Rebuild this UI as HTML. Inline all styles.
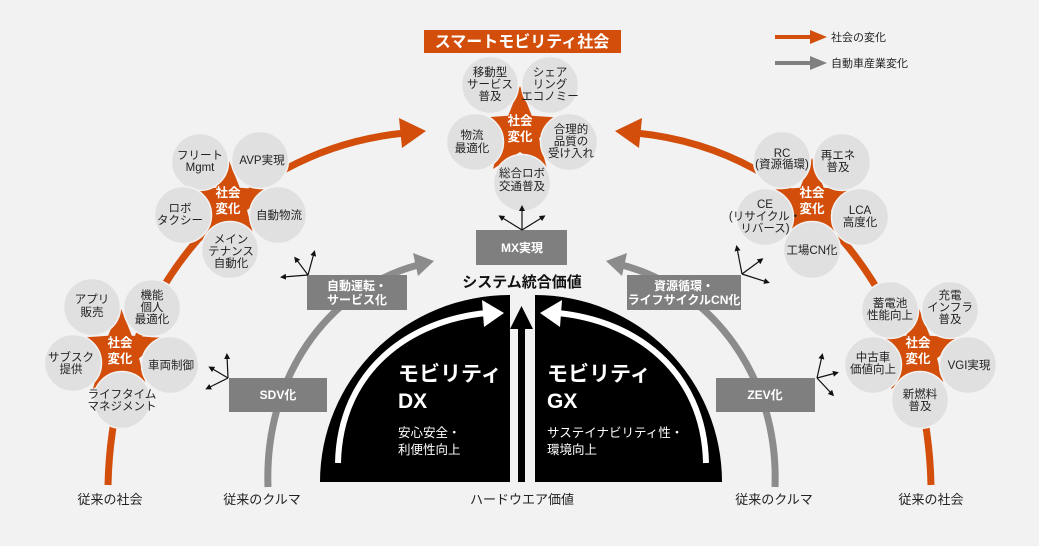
<!DOCTYPE html>
<html><head><meta charset="utf-8"><style>
html,body{margin:0;padding:0;background:#f2f2f2;}
svg{display:block;font-family:"Liberation Sans","Noto Sans CJK JP",sans-serif;}
.c{fill:#e0e0e0;stroke:#f2f2f2;stroke-width:1.5}
.t{font-size:11.5px;fill:#222;text-anchor:middle}
.s{font-size:12.5px;fill:#fff;font-weight:bold;text-anchor:middle}
.b{font-size:12px;fill:#fff;font-weight:bold;text-anchor:middle}
.k{stroke:#111;stroke-width:1.2;fill:none}
</style></head><body>
<svg width="1039" height="546" viewBox="0 0 1039 546" xmlns="http://www.w3.org/2000/svg">
<defs>
<polygon id="star" points="0,-46 11.8,-16.2 44,-14 19,6.2 27,37 0,20 -27,37 -19,6.2 -44,-14 -11.8,-16.2" fill="#d24e0a"/>
<marker id="ah" markerWidth="6" markerHeight="6" refX="3" refY="3" orient="auto" markerUnits="userSpaceOnUse"><path d="M0,0 L6,3 L0,6 Z" fill="#111"/></marker>
</defs>
<rect width="1039" height="546" fill="#f2f2f2"/>

<!-- legend -->
<line x1="775" y1="37" x2="812" y2="37" stroke="#d24e0a" stroke-width="4"/>
<path d="M810,30 L827,37 L810,44 Z" fill="#d24e0a"/>
<text x="831" y="41" font-size="11" fill="#222">社会の変化</text>
<line x1="775" y1="63" x2="812" y2="63" stroke="#808080" stroke-width="4"/>
<path d="M810,56 L827,63 L810,70 Z" fill="#808080"/>
<text x="831" y="67" font-size="11" fill="#222">自動車産業変化</text>

<!-- orange arcs -->
<path d="M108,485 C112,300 230,150 405,133" stroke="#d24e0a" stroke-width="7" fill="none"/>
<path d="M399,118 L426,131 L402,148 Z" fill="#d24e0a"/>
<path d="M931,485 C927,300 810,150 636,133" stroke="#d24e0a" stroke-width="7" fill="none"/>
<path d="M642,118 L615,131 L639,148 Z" fill="#d24e0a"/>

<!-- gray arcs -->
<path d="M268,487 C264,380 325,290 418,265" stroke="#8c8c8c" stroke-width="7" fill="none"/>
<path d="M413,253 L434,261 L418,276 Z" fill="#8c8c8c"/>
<path d="M775,487 C779,380 715,290 622,265" stroke="#8c8c8c" stroke-width="7" fill="none"/>
<path d="M627,253 L606,261 L622,276 Z" fill="#8c8c8c"/>

<!-- title -->
<rect x="424" y="30" width="197" height="23" fill="#d24e0a"/>
<text x="522" y="47" font-size="16" font-weight="bold" fill="#fff" text-anchor="middle">スマートモビリティ社会</text>

<!-- top cluster -->
<use href="#star" x="520" y="132"/>
<circle class="c" cx="490" cy="85" r="28.5"/><circle class="c" cx="550" cy="85" r="28.5"/>
<circle class="c" cx="475" cy="142" r="28.5"/><circle class="c" cx="569" cy="142" r="28.5"/>
<circle class="c" cx="522" cy="183" r="28.5"/>
<text class="s" x="520" y="125">社会</text><text class="s" x="520" y="141">変化</text>
<text class="t" x="490" y="76">移動型</text><text class="t" x="490" y="88">サービス</text><text class="t" x="490" y="100">普及</text>
<text class="t" x="550" y="76">シェア</text><text class="t" x="550" y="88">リング</text><text class="t" x="550" y="100">エコノミー</text>
<text class="t" x="472" y="139">物流</text><text class="t" x="472" y="152">最適化</text>
<text class="t" x="571" y="133">合理的</text><text class="t" x="571" y="145">品質の</text><text class="t" x="571" y="157">受け入れ</text>
<text class="t" x="522" y="177">総合ロボ</text><text class="t" x="522" y="190">交通普及</text>

<!-- left upper -->
<use href="#star" x="228" y="204"/>
<circle class="c" cx="200" cy="162" r="28.5"/><circle class="c" cx="260" cy="160" r="28.5"/>
<circle class="c" cx="183" cy="215" r="28.5"/><circle class="c" cx="278" cy="215" r="28.5"/>
<circle class="c" cx="230" cy="250" r="28.5"/>
<text class="s" x="228" y="197">社会</text><text class="s" x="228" y="213">変化</text>
<text class="t" x="200" y="159">フリート</text><text class="t" x="200" y="171">Mgmt</text>
<text class="t" x="262" y="164">AVP実現</text>
<text class="t" x="180" y="212">ロボ</text><text class="t" x="180" y="224">タクシー</text>
<text class="t" x="279" y="219">自動物流</text>
<text class="t" x="231" y="243">メイン</text><text class="t" x="231" y="255">テナンス</text><text class="t" x="231" y="267">自動化</text>

<!-- left lower -->
<use href="#star" x="120" y="352"/>
<circle class="c" cx="92" cy="307" r="28.5"/><circle class="c" cx="152" cy="308" r="28.5"/>
<circle class="c" cx="73" cy="363" r="28.5"/><circle class="c" cx="170" cy="365" r="28.5"/>
<circle class="c" cx="122" cy="400" r="28.5"/>
<text class="s" x="120" y="347">社会</text><text class="s" x="120" y="363">変化</text>
<text class="t" x="92" y="303">アプリ</text><text class="t" x="92" y="316">販売</text>
<text class="t" x="152" y="299">機能</text><text class="t" x="152" y="311">個人</text><text class="t" x="152" y="323">最適化</text>
<text class="t" x="71" y="361">サブスク</text><text class="t" x="71" y="373">提供</text>
<text class="t" x="171" y="369">車両制御</text>
<text class="t" x="122" y="398">ライフタイム</text><text class="t" x="122" y="410">マネジメント</text>

<!-- right upper -->
<use href="#star" x="812" y="204"/>
<circle class="c" cx="782" cy="160" r="28.5"/><circle class="c" cx="842" cy="162" r="28.5"/>
<circle class="c" cx="765" cy="217" r="28.5"/><circle class="c" cx="860" cy="217" r="28.5"/>
<circle class="c" cx="812" cy="250" r="28.5"/>
<text class="s" x="812" y="197">社会</text><text class="s" x="812" y="213">変化</text>
<text class="t" x="782" y="157">RC</text><text class="t" x="782" y="168">(資源循環)</text>
<text class="t" x="838" y="159">再エネ</text><text class="t" x="838" y="171">普及</text>
<text class="t" x="765" y="208">CE</text><text class="t" x="765" y="220">(リサイクル・</text><text class="t" x="765" y="232">リバース)</text>
<text class="t" x="860" y="214">LCA</text><text class="t" x="860" y="226">高度化</text>
<text class="t" x="812" y="254">工場CN化</text>

<!-- right lower -->
<use href="#star" x="918" y="352"/>
<circle class="c" cx="890" cy="310" r="28.5"/><circle class="c" cx="950" cy="310" r="28.5"/>
<circle class="c" cx="873" cy="365" r="28.5"/><circle class="c" cx="968" cy="365" r="28.5"/>
<circle class="c" cx="920" cy="400" r="28.5"/>
<text class="s" x="918" y="347">社会</text><text class="s" x="918" y="363">変化</text>
<text class="t" x="890" y="307">蓄電池</text><text class="t" x="890" y="319">性能向上</text>
<text class="t" x="950" y="299">充電</text><text class="t" x="950" y="311">インフラ</text><text class="t" x="950" y="323">普及</text>
<text class="t" x="873" y="361">中古車</text><text class="t" x="873" y="373">価値向上</text>
<text class="t" x="969" y="369">VGI実現</text>
<text class="t" x="920" y="398">新燃料</text><text class="t" x="920" y="410">普及</text>

<!-- gray boxes -->
<rect x="229" y="378" width="98" height="34" fill="#7f7f7f"/>
<text class="b" x="278" y="399">SDV化</text>
<rect x="307" y="275" width="100" height="35" fill="#7f7f7f"/>
<text class="b" x="357" y="290">自動運転・</text><text class="b" x="357" y="304">サービス化</text>
<rect x="476" y="230" width="91" height="35" fill="#7f7f7f"/>
<text class="b" x="522" y="252">MX実現</text>
<rect x="627" y="275" width="114" height="35" fill="#7f7f7f"/>
<text class="b" x="684" y="290">資源循環・</text><text class="b" x="684" y="304">ライフサイクルCN化</text>
<rect x="716" y="378" width="99" height="34" fill="#7f7f7f"/>
<text class="b" x="765" y="399">ZEV化</text>

<!-- small arrows -->
<g class="k">
<line x1="308" y1="275" x2="296" y2="259" marker-end="url(#ah)"/><line x1="308" y1="275" x2="314" y2="253" marker-end="url(#ah)"/><line x1="308" y1="275" x2="283" y2="277" marker-end="url(#ah)"/>
<line x1="228" y1="378" x2="227" y2="356" marker-end="url(#ah)"/><line x1="228" y1="378" x2="211" y2="368" marker-end="url(#ah)"/><line x1="228" y1="378" x2="208" y2="388" marker-end="url(#ah)"/>
<line x1="522" y1="230" x2="522" y2="208" marker-end="url(#ah)"/><line x1="522" y1="230" x2="501" y2="217" marker-end="url(#ah)"/><line x1="522" y1="230" x2="543" y2="217" marker-end="url(#ah)"/>
<line x1="742" y1="274" x2="737" y2="248" marker-end="url(#ah)"/><line x1="742" y1="274" x2="761" y2="260" marker-end="url(#ah)"/><line x1="742" y1="274" x2="767" y2="282" marker-end="url(#ah)"/>
<line x1="817" y1="378" x2="822" y2="356" marker-end="url(#ah)"/><line x1="817" y1="378" x2="836" y2="373" marker-end="url(#ah)"/><line x1="817" y1="378" x2="832" y2="394" marker-end="url(#ah)"/>
</g>

<!-- dome -->
<path d="M320,482 A190,187 0 0 1 510,295 L510,482 Z" fill="#000"/>
<path d="M535,482 L535,295 A187,187 0 0 1 722,482 Z" fill="#000"/>
<rect x="518" y="325" width="7" height="157" fill="#000"/>
<path d="M510,329 L521.5,306 L533,329 Z" fill="#000"/>
<path d="M338,463 C340,370 410,320 487,313" stroke="#fff" stroke-width="6" fill="none"/>
<path d="M504,313 L482,300 L484,327 Z" fill="#fff"/>
<path d="M706,463 C704,370 634,320 557,313" stroke="#fff" stroke-width="6" fill="none"/>
<path d="M540,313 L562,300 L560,327 Z" fill="#fff"/>

<text x="398" y="381" font-size="21" font-weight="bold" fill="#fff">モビリティ</text>
<text x="398" y="408" font-size="21" font-weight="bold" fill="#fff">DX</text>
<text x="398" y="437" font-size="12.5" fill="#fff">安心安全・</text>
<text x="398" y="454" font-size="12.5" fill="#fff">利便性向上</text>
<text x="547" y="381" font-size="21" font-weight="bold" fill="#fff">モビリティ</text>
<text x="547" y="408" font-size="21" font-weight="bold" fill="#fff">GX</text>
<text x="547" y="437" font-size="12.5" fill="#fff">サステイナビリティ性・</text>
<text x="547" y="454" font-size="12.5" fill="#fff">環境向上</text>

<text x="522" y="287" font-size="15" font-weight="bold" fill="#111" text-anchor="middle">システム統合価値</text>
<text x="522" y="504" font-size="13" fill="#222" text-anchor="middle">ハードウエア価値</text>
<text x="110" y="504" font-size="13" fill="#222" text-anchor="middle">従来の社会</text>
<text x="262" y="504" font-size="13" fill="#222" text-anchor="middle">従来のクルマ</text>
<text x="774" y="504" font-size="13" fill="#222" text-anchor="middle">従来のクルマ</text>
<text x="931" y="504" font-size="13" fill="#222" text-anchor="middle">従来の社会</text>
</svg>
</body></html>
